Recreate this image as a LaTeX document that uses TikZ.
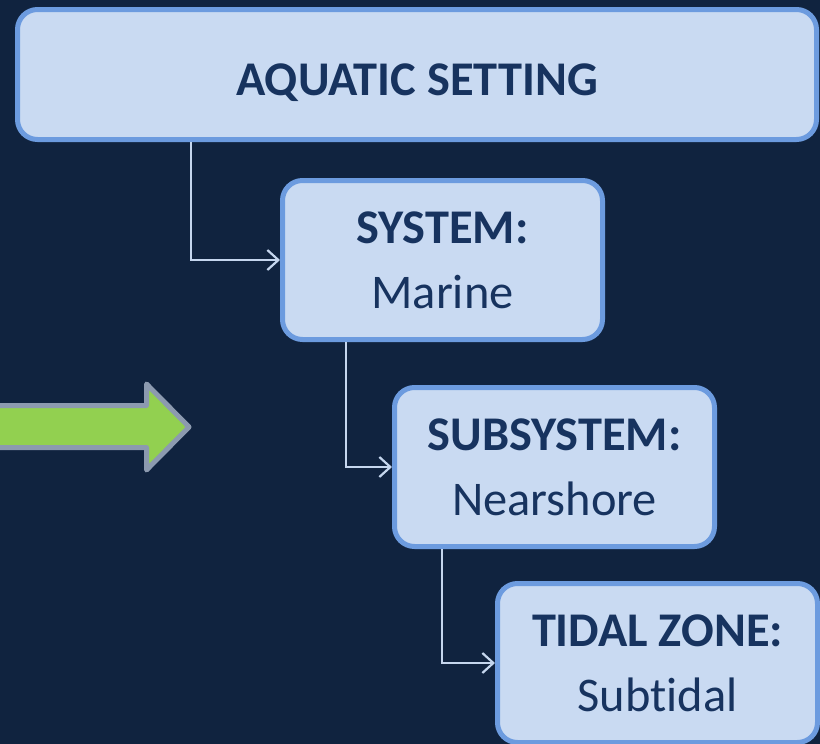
\documentclass[tikz,border=0pt]{standalone}
\usepackage{fontspec}
\setmainfont{Carlito}[Ligatures=NoCommon]
\usepackage{xcolor}
\usepackage{tikz}
\usetikzlibrary{arrows.meta}
\definecolor{navy}{HTML}{10233F}
\definecolor{boxfill}{HTML}{C9DAF2}
\definecolor{boxline}{HTML}{6C9BDF}
\definecolor{boxtext}{HTML}{17335F}
\definecolor{linkcol}{HTML}{C5D6EE}
\definecolor{leaf}{HTML}{92D050}
\definecolor{rim}{HTML}{8C9AAF}

\begin{document}
\begin{tikzpicture}[
  x=0.5pt, y=-0.5pt,
  box/.style={draw=boxline, fill=boxfill, text=boxtext, line width=2.5pt, rounded corners=10pt, align=center, minimum width=160pt, minimum height=79.5pt, font=\fontsize{24.2}{32.5}\selectfont},
  widebox/.style={box, minimum width=399.5pt, minimum height=65pt, text height=25pt, text depth=4.4pt},
  link/.style={-{Straight Barb[length=5.5pt, width=10pt]}, draw=linkcol, line width=1.1pt}]
\fill[navy] (0,0) rectangle (820,744);
\useasboundingbox (0,0) rectangle (820,744);
\draw[draw=rim, fill=leaf, line width=2.5pt, line join=round] (-10,405.5) -- (146.5,405.5) -- (146.5,384) -- (189,427) -- (146.5,470) -- (146.5,447.5) -- (-10,447.5) -- cycle;
\node[widebox] (setting) at (417,74.5) {\textbf{AQUATIC SETTING}};
\node[box] (system) at (442.5,260) {\textbf{SYSTEM:}\\Marine};
\node[box] (subsystem) at (554.5,467) {\textbf{SUBSYSTEM:}\\Nearshore};
\node[box] (tidal) at (657.5,663) {\textbf{TIDAL ZONE:}\\Subtidal};
\draw[link] ([xshift=88pt]setting.south west) |- (system.west);
\draw[link] ([xshift=33pt]system.south west) |- (subsystem.west);
\draw[link] ([xshift=25pt]subsystem.south west) |- (tidal.west);
\end{tikzpicture}
\end{document}
